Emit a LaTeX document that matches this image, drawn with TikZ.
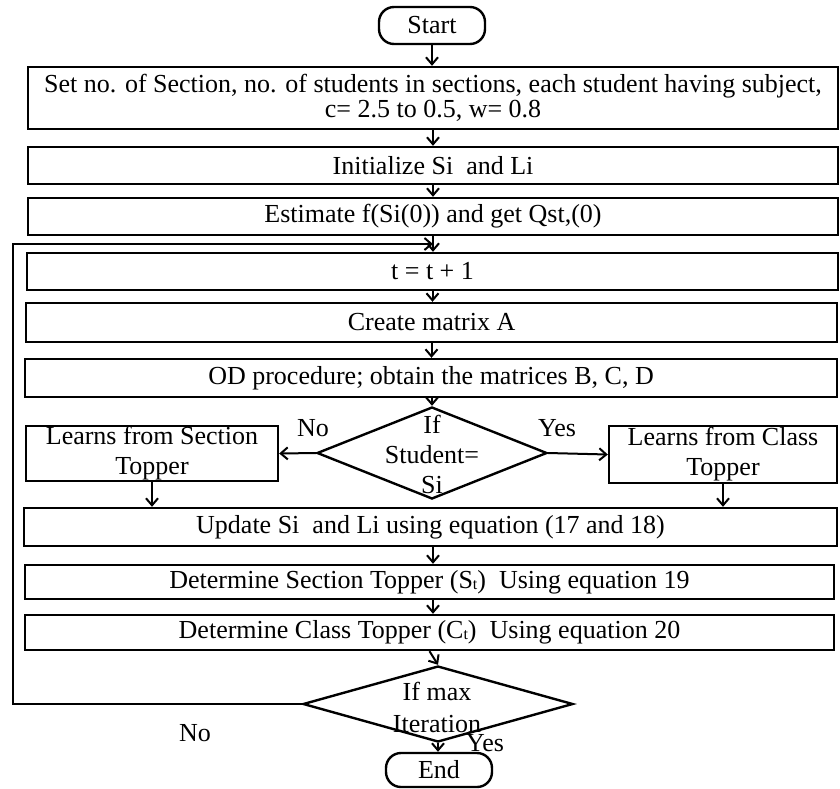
\documentclass[tikz,border=0pt]{standalone}
\usepackage{fontspec}
\setmainfont{Liberation Serif}
\usetikzlibrary{shapes.geometric,arrows.meta}
\newcommand\smallsub[1]{\raisebox{-1pt}{\fontsize{16}{16}\selectfont #1}}
\begin{document}
\begin{tikzpicture}[x=1pt,y=-1pt,
  every node/.style={font=\fontsize{26}{25}\selectfont},
  box/.style={draw, line width=2.4pt, fill=white, inner sep=0pt, align=center},
  term/.style={draw, line width=2.4pt, rounded corners=15pt, fill=white, inner sep=0pt},
  dia/.style={draw, diamond, line width=2.4pt, fill=white, inner sep=0pt},
  arr/.style={line width=2pt, -{Straight Barb[length=7pt,width=12pt]}},
  loopline/.style={line width=2pt, -{Straight Barb[length=7pt,width=12pt]}},
  lbl/.style={inner sep=0pt}]
\useasboundingbox (0,0) rectangle (840,788);

% nodes
\node[term, minimum width=106pt, minimum height=37pt] (start) at (432,25.5) {Start};
\node[box, minimum width=810pt, minimum height=62pt] (b1) at (433,98)
  {Set no. of Section, no. of students in sections, each student having subject,\\c= 2.5 to 0.5, w= 0.8};
\node[box, minimum width=810pt, minimum height=37pt] (b2) at (433,165.5) {Initialize Si\ \ and Li};
\node[box, minimum width=810pt, minimum height=37pt] (b3) at (433,216.5) {Estimate f(Si(0)) and get Qst,(0)};
\node[box, minimum width=811pt, minimum height=37pt] (b4) at (432.5,271.5) {t = t + 1};
\node[box, minimum width=811pt, minimum height=39pt] (b5) at (431.5,322.5) {Create matrix A};
\node[box, minimum width=812pt, minimum height=38pt] (b6) at (431,378) {OD procedure; obtain the matrices B, C, D};
\node[dia, minimum width=230pt, minimum height=92pt] (d1) at (432,453) {};
\node[lbl, align=center, font=\fontsize{26}{30}\selectfont] (d1t) at (432,454) {If\\Student=\\Si};
\node[box, minimum width=252pt, minimum height=55pt, font=\fontsize{26}{30}\selectfont] (lb) at (152,453.5) {Learns from Section\\Topper};
\node[box, minimum width=228pt, minimum height=57pt, font=\fontsize{26}{30}\selectfont] (rb) at (723,454.5) {Learns from Class\\Topper};
\node[box, minimum width=813pt, minimum height=38pt] (up) at (430.5,527) {Update Si\ \ and Li using equation (17 and 18)};
\node[box, minimum width=809pt, minimum height=34pt] (ds) at (429.5,582) {Determine Section Topper (S\smallsub{t})\ \ Using equation 19};
\node[box, minimum width=809pt, minimum height=35pt] (dc) at (429.5,632.5) {Determine Class Topper (C\smallsub{t})\ \ Using equation 20};
\node[dia, minimum width=270pt, minimum height=76pt] (d2) at (438,704) {};
\node[lbl, align=center, font=\fontsize{26}{32}\selectfont] (d2t) at (437,707) {If max\\Iteration};
\node[term, minimum width=106pt, minimum height=34pt] (end) at (439,770) {End};

% labels
\node[lbl] (no1) at (313,428) {No};
\node[lbl] (yes1) at (557,428) {Yes};
\node[lbl] (no2) at (195,733) {No};
\node[lbl] (yes2) at (485,743) {Yes};

% loop coordinates
\coordinate (c1) at (13,704);
\coordinate (c2) at (13,244);
\coordinate (lp) at (433,244);

% connectors
\draw[arr] (start.south) -- (start.south |- b1.north);
\draw[arr] (b1.south) -- (b2.north);
\draw[arr] (b2.south) -- (b3.north);
\draw[arr] (b3.south) -- (b3.south |- b4.north);
\draw[arr] (b4.south) -- (b4.south |- b5.north);
\draw[arr] (b5.south) -- (b5.south |- b6.north);
\draw[arr] (b6.south -| d1.north) -- (d1.north);
\draw[arr] (d1.west) -- (lb.east);
\draw[arr] (d1.east) -- (rb.west);
\draw[arr] (lb.south) -- (lb.south |- up.north);
\draw[arr] (rb.south) -- (rb.south |- up.north);
\draw[arr] (b1.south |- up.south) -- (b1.south |- ds.north);
\draw[arr] (b1.south |- ds.south) -- (b1.south |- dc.north);
\draw[arr] (dc.south) -- (d2.north);
\draw[arr] (d2.south) -- (d2.south |- end.north);
\draw[loopline] (d2.west) -- (c1) -- (c2) -- (lp);
\end{tikzpicture}
\end{document}
